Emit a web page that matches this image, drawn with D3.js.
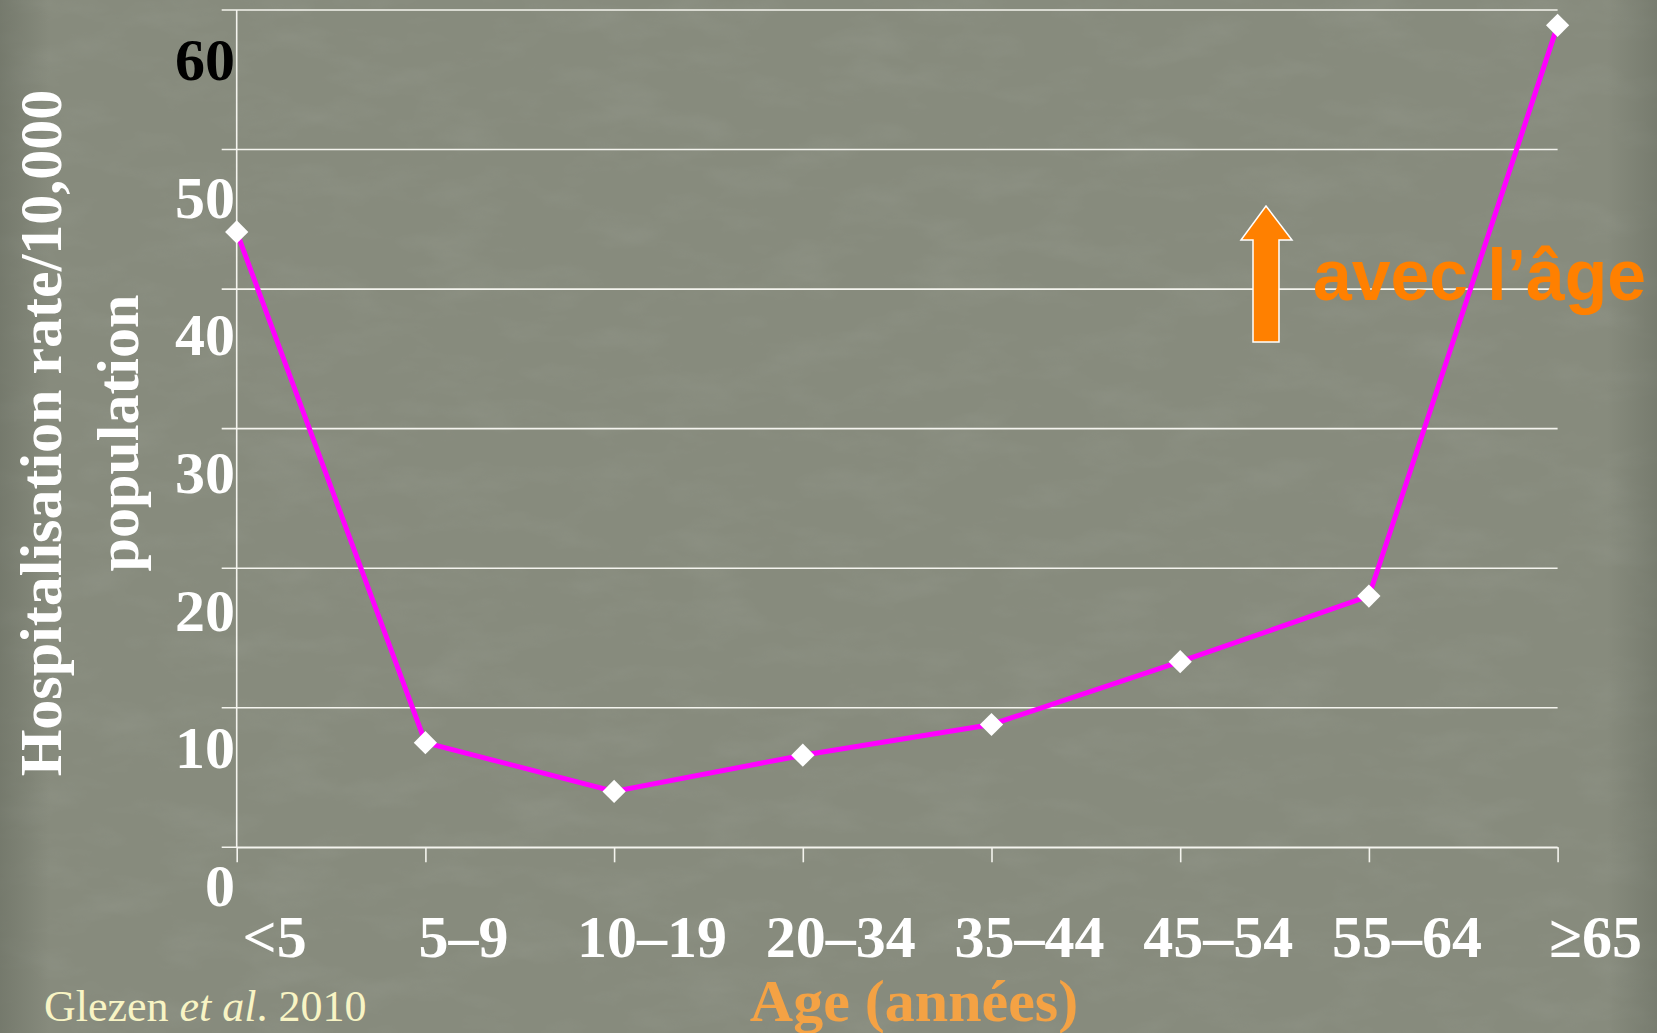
<!DOCTYPE html>
<html>
<head>
<meta charset="utf-8">
<title>Hospitalisation rate by age</title>
<script src="https://cdn.jsdelivr.net/npm/d3@7"></script>
<style>
  html, body { margin: 0; padding: 0; background: #878b7d; }
  svg { display: block; }
  .serif { font-family: "Liberation Serif", "Times New Roman", serif; }
  .sans { font-family: "Liberation Sans", Arial, sans-serif; }
</style>
</head>
<body>
<svg id="chart" width="1657" height="1033"></svg>
<script>
// Age groups and hospitalisation rate per 10,000 population
const ageGroups = ["<5", "5–9", "10–19", "20–34", "35–44", "45–54", "55–64", "≥65"];
const rates = [44.1, 7.5, 4.0, 6.6, 8.8, 13.3, 18.0, 58.9];
const yTicks = [0, 10, 20, 30, 40, 50, 60];
const yTickLabels = ["0", "10", "20", "30", "40", "50", "60"];

const W = 1657, H = 1033;
const svg = d3.select("#chart");

// ---- background with a soft stone texture ----
const defs = svg.append("defs");
const tex = defs.append("filter").attr("id", "stone")
  .attr("x", 0).attr("y", 0).attr("width", "100%").attr("height", "100%");
tex.append("feTurbulence").attr("type", "fractalNoise")
  .attr("baseFrequency", "0.012 0.03").attr("numOctaves", 4).attr("seed", 7).attr("result", "n");
tex.append("feColorMatrix").attr("type", "matrix")
  .attr("values", "0 0 0 0 0.35  0 0 0 0 0.37  0 0 0 0 0.32  1.4 0 0 0 -0.62");
const vign = defs.append("linearGradient").attr("id", "edge").attr("x1", 0).attr("x2", 1);
vign.append("stop").attr("offset", 0).attr("stop-color", "#5f6458").attr("stop-opacity", 0.45);
vign.append("stop").attr("offset", 0.03).attr("stop-color", "#5f6458").attr("stop-opacity", 0);
vign.append("stop").attr("offset", 0.97).attr("stop-color", "#5f6458").attr("stop-opacity", 0);
vign.append("stop").attr("offset", 1).attr("stop-color", "#5f6458").attr("stop-opacity", 0.4);

svg.append("rect").attr("width", W).attr("height", H).attr("fill", "#878b7d");
svg.append("rect").attr("width", W).attr("height", H).attr("filter", "url(#stone)").attr("opacity", 0.35);
svg.append("rect").attr("width", W).attr("height", H).attr("fill", "url(#edge)");

// ---- scales ----
const x = d3.scalePoint().domain(ageGroups).range([236.7, 1557.6]);
const y = d3.scaleLinear().domain([0, 60]).range([847.3, 10]);
// baseline positions of the value labels down the left side
const yLabel = d3.scaleLinear().domain([0, 60]).range([906, 80]);

const gridColor = "#f4f4ee";

// horizontal gridlines (with short outside ticks on the left)
svg.append("g").selectAll("line").data(yTicks).join("line")
  .attr("x1", x.range()[0] - 15).attr("x2", x.range()[1])
  .attr("y1", d => y(d)).attr("y2", d => y(d))
  .attr("stroke", gridColor).attr("stroke-width", 1.6);

// vertical axis line
svg.append("line")
  .attr("x1", x.range()[0]).attr("x2", x.range()[0])
  .attr("y1", y(60)).attr("y2", y(0))
  .attr("stroke", gridColor).attr("stroke-width", 1.6);

// bottom axis: tick marks only, labels placed separately
const xAxis = svg.append("g")
  .attr("transform", `translate(0,${y(0)})`)
  .call(d3.axisBottom(x).tickSize(15).tickSizeOuter(0).tickFormat(""));
xAxis.select(".domain").attr("stroke", gridColor).attr("stroke-width", 1.6);
xAxis.selectAll(".tick line").attr("stroke", gridColor).attr("stroke-width", 1.6);

// value labels
svg.append("g").attr("class", "serif").selectAll("text").data(yTicks).join("text")
  .attr("x", 235).attr("y", d => yLabel(d))
  .attr("text-anchor", "end")
  .attr("font-size", 60).attr("font-weight", "bold")
  .attr("fill", d => d === 60 ? "#000000" : "#ffffff")
  .text((d, i) => yTickLabels[i]);

// age group labels
svg.append("g").attr("class", "serif").selectAll("text").data(ageGroups).join("text")
  .attr("x", d => x(d) + 38).attr("y", 957)
  .attr("text-anchor", "middle")
  .attr("font-size", 60).attr("font-weight", "bold")
  .attr("fill", "#ffffff")
  .text(d => d);

// ---- annotation: rising with age (sits under the series line) ----
const arrow = d3.path();
arrow.moveTo(1266, 206);
arrow.lineTo(1292, 240);
arrow.lineTo(1279, 240);
arrow.lineTo(1279, 342);
arrow.lineTo(1253, 342);
arrow.lineTo(1253, 240);
arrow.lineTo(1241, 240);
arrow.closePath();
svg.append("path").attr("d", arrow.toString())
  .attr("fill", "#ff8000").attr("stroke", "#ffffff").attr("stroke-width", 1.5);

svg.append("text").attr("class", "sans")
  .attr("x", 1313).attr("y", 300)
  .attr("font-size", 72).attr("font-weight", "bold").attr("fill", "#ff8000")
  .attr("textLength", 333).attr("lengthAdjust", "spacingAndGlyphs")
  .text("avec l’âge");

// ---- series ----
const pts = ageGroups.map((g, i) => ({ g, v: rates[i] }));
svg.append("path").datum(pts)
  .attr("fill", "none").attr("stroke", "#ff00ff").attr("stroke-width", 5)
  .attr("stroke-linejoin", "miter")
  .attr("d", d3.line().x(d => x(d.g)).y(d => y(d.v)));

svg.append("g").selectAll("path").data(pts).join("path")
  .attr("transform", d => `translate(${x(d.g)},${y(d.v)}) rotate(45)`)
  .attr("d", d3.symbol().type(d3.symbolSquare).size(270))
  .attr("fill", "#ffffff");

// ---- axis titles ----
const yTitle = svg.append("text").attr("class", "serif")
  .attr("transform", "translate(61,433) rotate(-90)")
  .attr("text-anchor", "middle")
  .attr("font-size", 60).attr("font-weight", "bold").attr("fill", "#ffffff");
yTitle.append("tspan").attr("x", 0).attr("dy", 0).text("Hospitalisation rate/10,000");
yTitle.append("tspan").attr("x", 0).attr("dy", 77).text("population");

svg.append("text").attr("class", "serif")
  .attr("x", 914).attr("y", 1021)
  .attr("text-anchor", "middle")
  .attr("font-size", 60).attr("font-weight", "bold").attr("fill", "#f4a244")
  .text("Age (années)");

// ---- source ----
const src = svg.append("text").attr("class", "serif")
  .attr("x", 44).attr("y", 1021)
  .attr("font-size", 44).attr("fill", "#f8f4c4");
src.append("tspan").text("Glezen ");
src.append("tspan").attr("font-style", "italic").text("et al");
src.append("tspan").text(". 2010");
</script>
</body>
</html>
